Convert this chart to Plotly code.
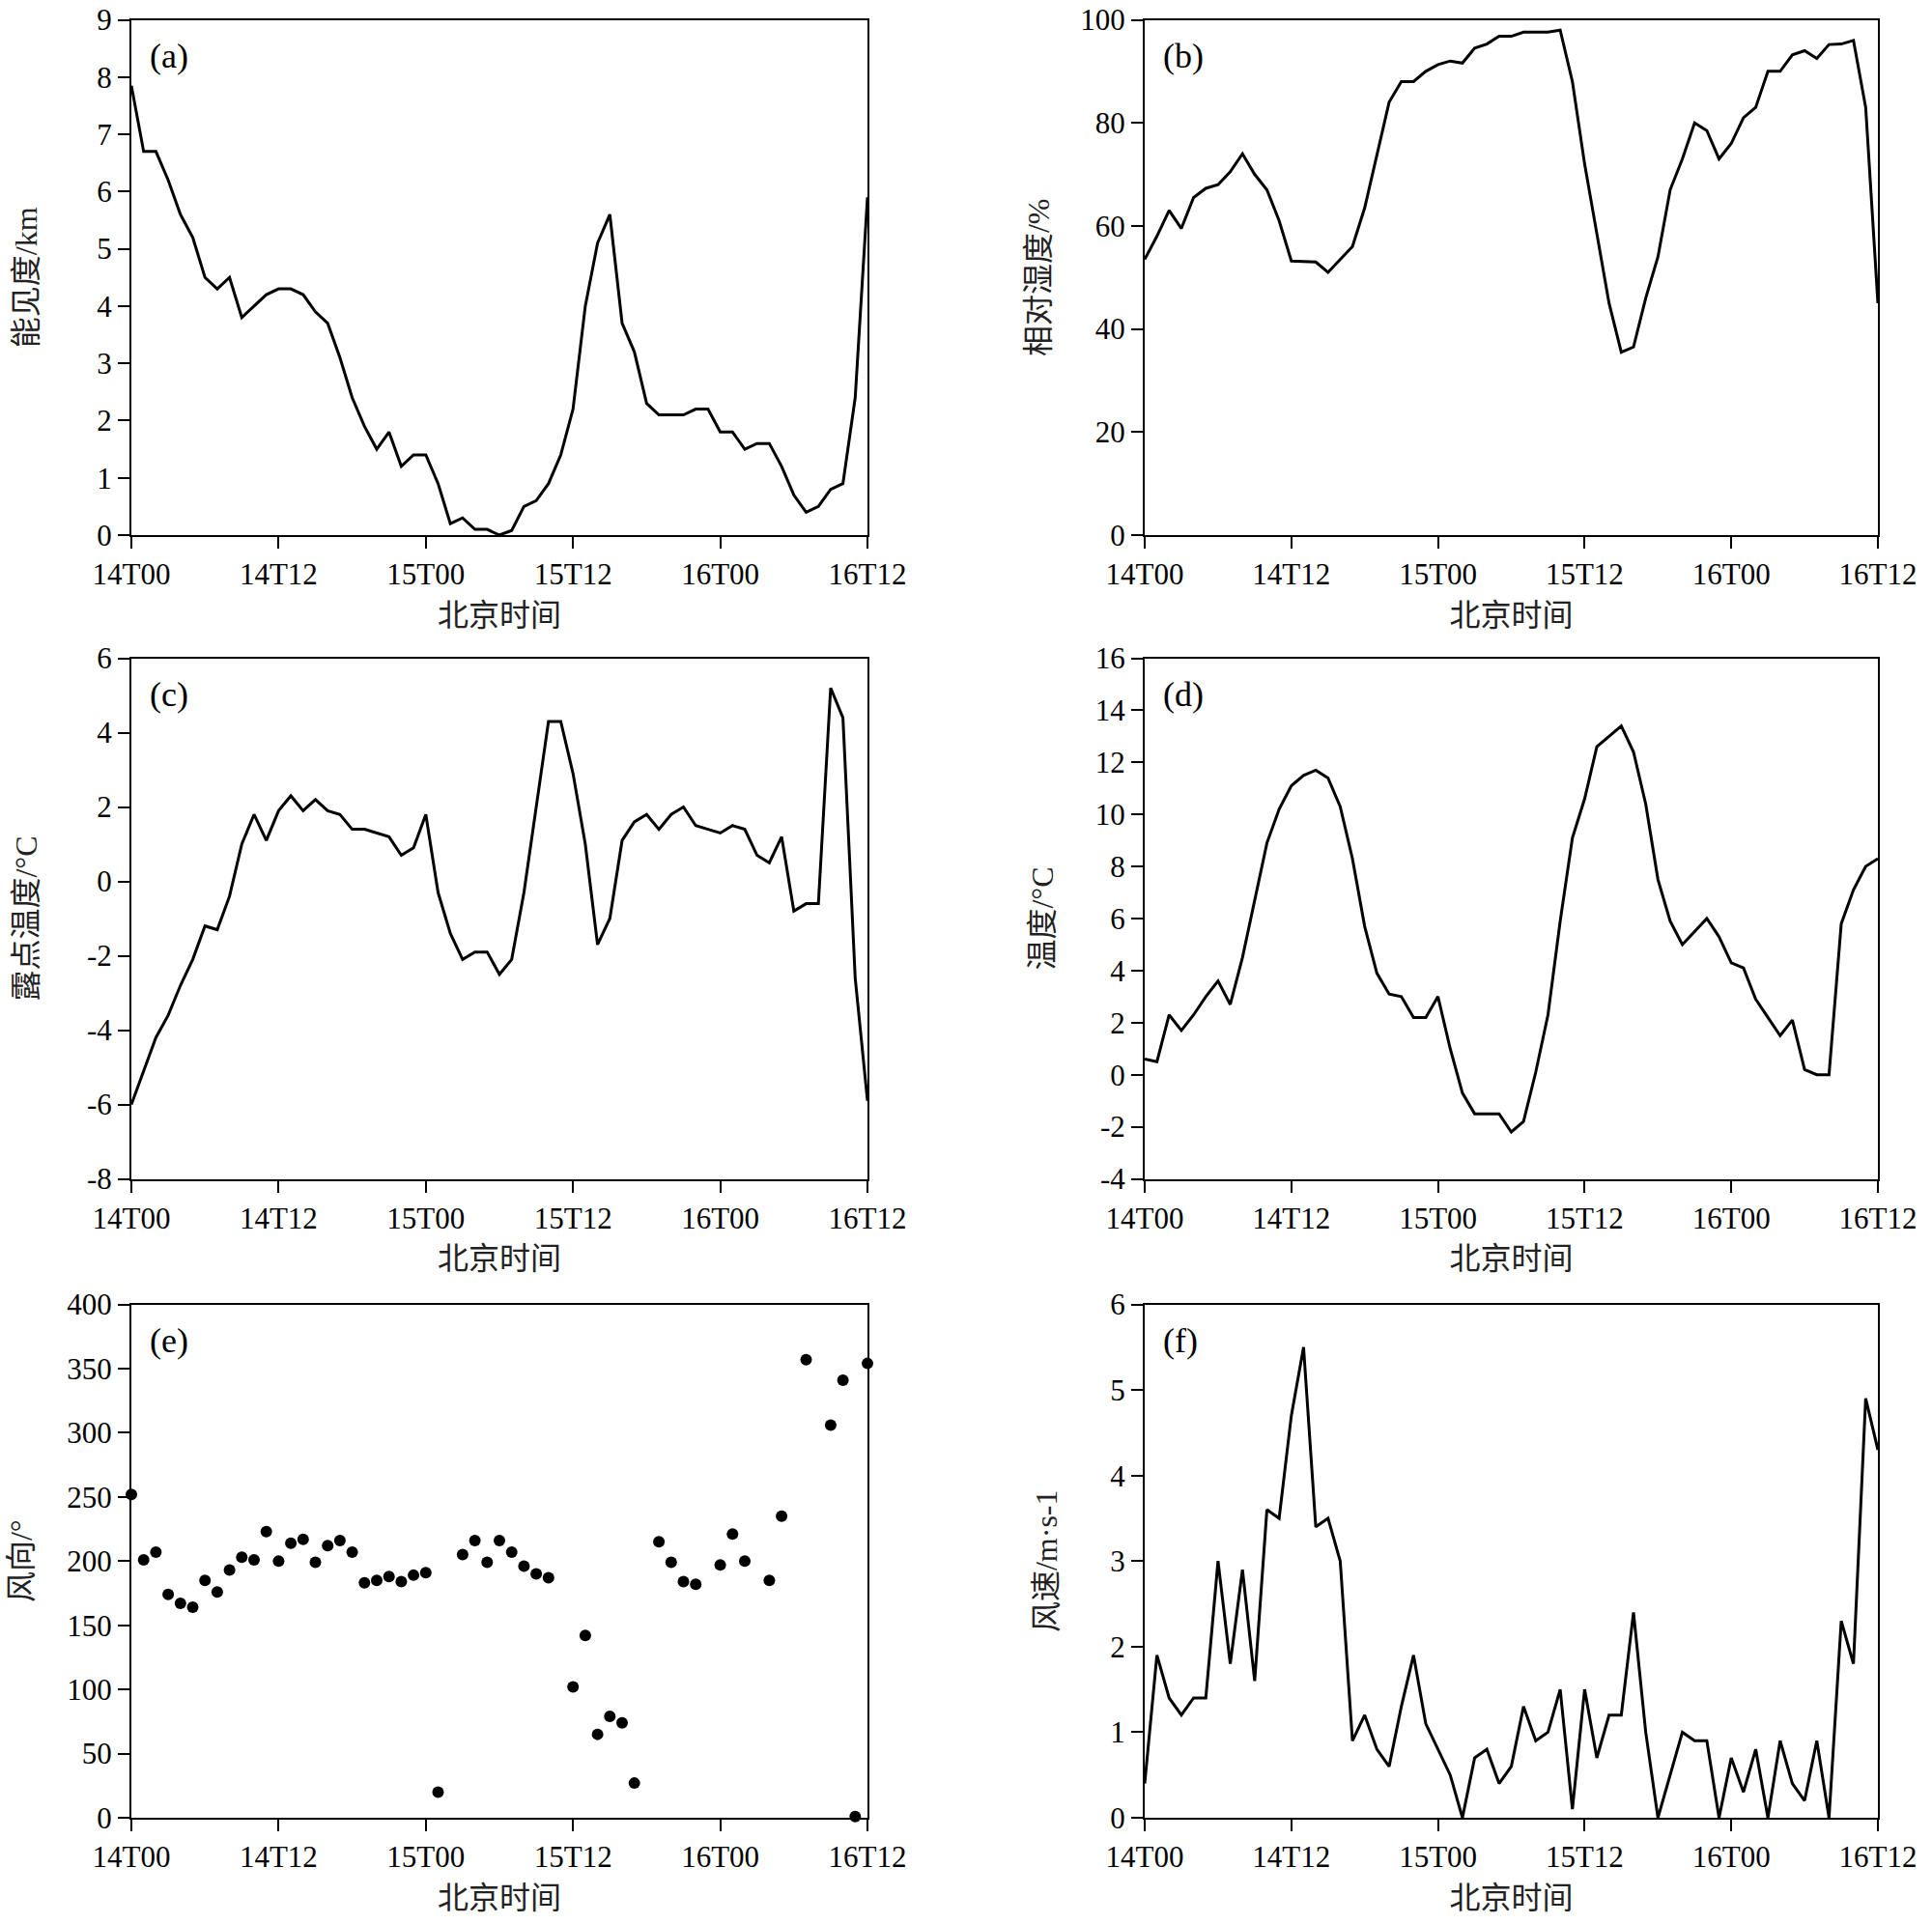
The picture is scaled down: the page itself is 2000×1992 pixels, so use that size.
import plotly.graph_objects as go

# 14日00时 到 16日12时, 逐时
hours = list(range(61))
tick_vals = [0, 12, 24, 36, 48, 60]
tick_text = ["14T00", "14T12", "15T00", "15T12", "16T00", "16T12"]

# (a) 能见度 km
visibility = [7.85, 6.7, 6.7, 6.2, 5.6, 5.2, 4.5, 4.3, 4.5, 3.8,
              4.0, 4.2, 4.3, 4.3, 4.2, 3.9, 3.7, 3.1, 2.4, 1.9,
              1.5, 1.8, 1.2, 1.4, 1.4, 0.9, 0.2, 0.3, 0.1, 0.1,
              0.0, 0.08, 0.5, 0.6, 0.9, 1.4, 2.2, 4.0, 5.1, 5.6,
              3.7, 3.2, 2.3, 2.1, 2.1, 2.1, 2.2, 2.2, 1.8, 1.8,
              1.5, 1.6, 1.6, 1.2, 0.7, 0.4, 0.5, 0.8, 0.9, 2.4,
              5.9]

# (b) 相对湿度 %
humidity = [53.5, 58, 63, 59.5, 65.5, 67.3, 68, 70.5, 74, 70,
            67, 61, 53.2, 53.1, 53, 51, 53.5, 56, 63.5, 74,
            84, 88, 88, 90, 91.3, 92, 91.6, 94.5, 95.3, 96.8,
            96.8, 97.6, 97.6, 97.6, 98, 88, 72, 58.5, 45, 35.5,
            36.5, 46, 54, 67, 73, 80, 78.5, 73, 76, 81,
            83, 90, 90, 93.2, 94, 92.5, 95.2, 95.3, 96, 83,
            45]

# (c) 露点温度 °C
dew_point = [-6.0, -5.1, -4.2, -3.6, -2.8, -2.1, -1.2, -1.3, -0.4, 1.0,
             1.8, 1.1, 1.9, 2.3, 1.9, 2.2, 1.9, 1.8, 1.4, 1.4,
             1.3, 1.2, 0.7, 0.9, 1.8, -0.3, -1.4, -2.1, -1.9, -1.9,
             -2.5, -2.1, -0.3, 2.0, 4.3, 4.3, 2.9, 1.0, -1.7, -1.0,
             1.1, 1.6, 1.8, 1.4, 1.8, 2.0, 1.5, 1.4, 1.3, 1.5,
             1.4, 0.7, 0.5, 1.2, -0.8, -0.6, -0.6, 5.2, 4.4, -2.6,
             -5.9]

# (d) 温度 °C
temperature = [0.6, 0.5, 2.3, 1.7, 2.3, 3.0, 3.6, 2.7, 4.5, 6.7,
               8.9, 10.2, 11.1, 11.5, 11.7, 11.4, 10.3, 8.3, 5.7, 3.9,
               3.1, 3.0, 2.2, 2.2, 3.0, 1.0, -0.7, -1.5, -1.5, -1.5,
               -2.2, -1.8, 0.1, 2.3, 5.9, 9.1, 10.6, 12.6, 13.0, 13.4,
               12.4, 10.4, 7.5, 5.9, 5.0, 5.5, 6.0, 5.3, 4.3, 4.1,
               2.9, 2.2, 1.5, 2.1, 0.2, 0.0, 0.0, 5.8, 7.1, 8.0,
               8.3]

# (e) 风向 °, None = 缺测
wind_dir = [252, 201, 207, 174, 167, 164, 185, 176, 193, 203,
            201, 223, 200, 214, 217, 199, 212, 216, 207, 183,
            185, 188, 184, 189, 191, 20, None, 205, 216, 199,
            216, 207, 196, 190, 187, None, 102, 142, 65, 79,
            74, 27, None, 215, 199, 184, 182, None, 197, 221,
            200, None, 185, 235, None, 357, None, 306, 341, 1,
            354]

# (f) 风速 m/s
wind_speed = [0.4, 1.9, 1.4, 1.2, 1.4, 1.4, 3.0, 1.8, 2.9, 1.6,
              3.6, 3.5, 4.7, 5.5, 3.4, 3.5, 3.0, 0.9, 1.2, 0.8,
              0.6, 1.3, 1.9, 1.1, 0.8, 0.5, 0.0, 0.7, 0.8, 0.4,
              0.6, 1.3, 0.9, 1.0, 1.5, 0.1, 1.5, 0.7, 1.2, 1.2,
              2.4, 1.0, 0.0, 0.5, 1.0, 0.9, 0.9, 0.0, 0.7, 0.3,
              0.8, 0.0, 0.9, 0.4, 0.2, 0.9, 0.0, 2.3, 1.8, 4.9,
              4.3]

# y 轴刻度
yticks_a = [0, 1, 2, 3, 4, 5, 6, 7, 8, 9]
yticks_b = [0, 20, 40, 60, 80, 100]
yticks_c = [-8, -6, -4, -2, 0, 2, 4, 6]
yticks_d = [-4, -2, 0, 2, 4, 6, 8, 10, 12, 14, 16]
yticks_e = [0, 50, 100, 150, 200, 250, 300, 350, 400]
yticks_f = [0, 1, 2, 3, 4, 5, 6]

FONT = "Liberation Serif, Noto Sans CJK SC, serif"
W, H = 2000, 1992


def xdom(left, right):
    return [left / W, right / W]


def ydom(top, bottom):
    return [1 - bottom / H, 1 - top / H]


# 各子图边框位置 (像素)
col_x = [xdom(136, 898), xdom(1185, 1944)]
row_y = [ydom(20.5, 554), ydom(681.5, 1220.5), ydom(1350.5, 1882)]

panels = [
    ("(a)", visibility, "lines", "能见度/km", yticks_a, 52),
    ("(b)", humidity, "lines", "相对湿度/%", yticks_b, 22),
    ("(c)", dew_point, "lines", "露点温度/°C", yticks_c, 42),
    ("(d)", temperature, "lines", "温度/°C", yticks_d, 34),
    ("(e)", wind_dir, "markers", "风向/°", yticks_e, 26),
    ("(f)", wind_speed, "lines", "风速/m·s-1", yticks_f, 45),
]

axis_style = dict(
    showline=True, linecolor="black", linewidth=2, mirror=True,
    ticks="outside", ticklen=12, tickwidth=2, tickcolor="black",
    showgrid=False, zeroline=False, automargin=False,
    ticklabeloverflow="allow",
    tickfont=dict(family=FONT, size=31, color="black"),
)

fig = go.Figure()
layout = {}
for i, (label, values, mode, ytitle, yticks, standoff) in enumerate(panels):
    n = i + 1
    xa = "x" if n == 1 else f"x{n}"
    ya = "y" if n == 1 else f"y{n}"
    row, col = divmod(i, 2)

    if mode == "lines":
        fig.add_trace(go.Scatter(x=hours, y=values, mode="lines",
                                 line=dict(color="black", width=3),
                                 xaxis=xa, yaxis=ya, showlegend=False))
    else:
        fig.add_trace(go.Scatter(x=hours, y=values, mode="markers",
                                 marker=dict(color="black", size=12),
                                 cliponaxis=False,
                                 xaxis=xa, yaxis=ya, showlegend=False))

    layout[f"xaxis{n}"] = dict(
        axis_style, domain=col_x[col], anchor=ya, range=[0, 60],
        tickvals=tick_vals, ticktext=tick_text,
        title=dict(text="北京时间", standoff=14,
                   font=dict(family=FONT, size=32, color="#222")),
    )
    layout[f"yaxis{n}"] = dict(
        axis_style, domain=row_y[row], anchor=xa,
        range=[yticks[0], yticks[-1]],
        tickvals=yticks, ticktext=[str(v) for v in yticks],
        title=dict(text=ytitle, standoff=standoff,
                   font=dict(family=FONT, size=32, color="#222")),
    )
    fig.add_annotation(text=label, xref=f"{xa} domain", yref=f"{ya} domain",
                       x=0.022, y=0.93, xanchor="left", yanchor="middle",
                       showarrow=False,
                       font=dict(family=FONT, size=36, color="black"))

fig.update_layout(
    width=W, height=H,
    margin=dict(l=0, r=0, t=0, b=0),
    paper_bgcolor="white", plot_bgcolor="white",
    **layout,
)

# 去掉页面默认的 8px 边距, 让图正好占满窗口
fig.write_html("out.html", config={"displayModeBar": False},
               post_script="document.body.style.margin = '0';")
